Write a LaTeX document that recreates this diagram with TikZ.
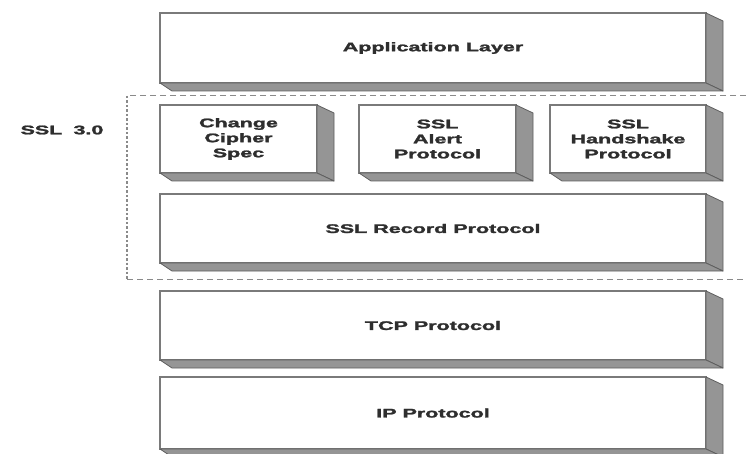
\documentclass[tikz,border=0pt]{standalone}
\usepackage{fontspec}
\setmainfont{Liberation Sans}[BoldFeatures={FakeBold=1.6}]
\usepackage{graphicx}
\definecolor{facegray}{HTML}{7A7A7A}
\definecolor{sidegray}{HTML}{959595}
\definecolor{edgegray}{HTML}{5E5E5E}
\definecolor{inkgray}{HTML}{2E2E2E}
\definecolor{dashgray}{HTML}{8A8A8A}
% one line of wide bold label text
\newcommand{\wl}[1]{\scalebox{1.72}[1]{#1}}
% grey extruded side and bottom of a layer box
\newcommand{\extrude}[1]{%
  \fill[sidegray,draw=edgegray,line width=0.8pt,line join=round]
    (#1.north east) -- ++(17pt,-8pt) -- ([shift={(17pt,-8pt)}]#1.south east)
    -- (#1.south east) -- cycle;
  \fill[sidegray,draw=edgegray,line width=0.8pt,line join=round]
    (#1.south west) -- ++(12pt,-8pt) -- ([shift={(17pt,-8pt)}]#1.south east)
    -- (#1.south east) -- cycle;
}
\begin{document}
\begin{tikzpicture}[x=1pt,y=-1pt,
  layer/.style={draw=facegray,line width=1.3pt,fill=white,inner sep=0pt,
    outer sep=0pt,anchor=north west,align=center,text=inkgray,
    font=\fontsize{12.5}{15}\selectfont\bfseries},
  ssllabel/.style={text=inkgray,font=\fontsize{12.5}{15}\selectfont\bfseries}]
\useasboundingbox (0,0) rectangle (746,454);
\fill[white] (0,0) rectangle (746,454);

% SSL 3.0 frame (open on the right)
\coordinate (fr-tr) at (746,96);
\coordinate (fr-tl) at (127,96);
\coordinate (fr-bl) at (127,279);
\coordinate (fr-br) at (746,279);
\draw[dashgray,line width=1pt,dash pattern=on 6pt off 4pt] (fr-tr) -- (fr-tl);
\draw[dashgray,line width=1.2pt,dash pattern=on 2.5pt off 2pt] (fr-tl) -- (fr-bl);
\draw[dashgray,line width=1pt,dash pattern=on 6pt off 4pt] (fr-bl) -- (fr-br);
\node[ssllabel] (ssl) at (62,130) {\wl{SSL\hspace{3pt} 3.0}};

% protocol layers
\node[layer,minimum width=546pt,minimum height=70pt] (app) at (160,13)
  {\wl{Application Layer}};
\extrude{app}
\node[layer,minimum width=157pt,minimum height=68pt] (ccs) at (160,105)
  {\wl{Change}\\\wl{Cipher}\\\wl{Spec}};
\extrude{ccs}
\node[layer,minimum width=157pt,minimum height=68pt] (alert) at (359,105)
  {\wl{SSL}\\\wl{Alert}\\\wl{Protocol}};
\extrude{alert}
\node[layer,minimum width=156pt,minimum height=68pt] (hs) at (550,105)
  {\wl{SSL}\\\wl{Handshake}\\\wl{Protocol}};
\extrude{hs}
\node[layer,minimum width=546pt,minimum height=69pt] (rec) at (160,194)
  {\wl{SSL Record Protocol}};
\extrude{rec}
\node[layer,minimum width=546pt,minimum height=69pt] (tcp) at (160,291)
  {\wl{TCP Protocol}};
\extrude{tcp}
\node[layer,minimum width=546pt,minimum height=72pt] (ip) at (160,377)
  {\wl{IP Protocol}};
\extrude{ip}
\end{tikzpicture}
\end{document}
